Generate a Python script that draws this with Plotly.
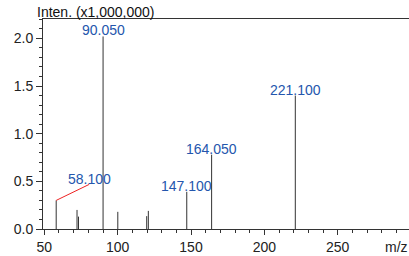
import plotly.graph_objects as go

mz = [58.1, 72.3, 73.3, 90.05, 100.1, 119.8, 120.9, 147.1, 164.05, 221.1]
intensity = [0.30, 0.20, 0.13, 2.02, 0.18, 0.135, 0.19, 0.39, 0.78, 1.40]

label_mz = [90.05, 221.1, 164.05, 147.1]
label_int = [2.02, 1.40, 0.78, 0.39]
label_text = ["90.050", "221.100", "164.050", "147.100"]

callout_mz = 58.1
callout_int = 0.30
callout_text = "58.100"

y_title = "Inten. (x1,000,000)"
x_title = "m/z"

xs, ys = [], []
for m, v in zip(mz, intensity):
    xs += [m, m, None]
    ys += [0, v, None]

fig = go.Figure()
fig.add_trace(go.Scatter(x=xs, y=ys, mode="lines",
                         line=dict(color="#333333", width=1),
                         hoverinfo="skip", showlegend=False))

lab_font = dict(family="Liberation Sans, Arial", size=14, color="#2456ad")
for m, v, t in zip(label_mz, label_int, label_text):
    fig.add_annotation(x=m, y=v, text=t, showarrow=False, xanchor="center",
                       yanchor="bottom", yshift=-4, font=lab_font)

# callout with red leader line
fig.add_shape(type="line", xref="x", yref="y", xsizemode="pixel", ysizemode="pixel",
              xanchor=callout_mz, yanchor=callout_int, x0=0, x1=33, y0=0, y1=16,
              line=dict(color="#ee2222", width=1))
fig.add_annotation(x=callout_mz, y=callout_int, text=callout_text, showarrow=False,
                   xanchor="center", yanchor="middle", xshift=33, yshift=21, font=lab_font)

fig.add_annotation(xref="paper", yref="paper", x=-0.022, y=1.0, text=y_title,
                   showarrow=False, xanchor="left", yanchor="bottom", yshift=-3,
                   font=dict(family="Liberation Sans, Arial", size=14, color="#111111"))
fig.add_annotation(xref="paper", yref="paper", x=0.965, y=0, text=x_title,
                   showarrow=False, xanchor="center", yanchor="top", yshift=-8,
                   font=dict(family="Liberation Sans, Arial", size=14, color="#222222"))

axis_font = dict(family="Liberation Sans, Arial", size=14, color="#222222")
fig.update_xaxes(range=[49.1, 298.6], tickvals=[50, 100, 150, 200, 250],
                 ticks="outside", ticklen=5, tickcolor="#333", tickwidth=1,
                 showline=True, linecolor="#333", linewidth=1, mirror=True,
                 showgrid=False, zeroline=False, tickfont=axis_font,
                 minor=dict(dtick=10, tick0=50, ticks="outside", ticklen=3, tickcolor="#333"))
fig.update_yaxes(range=[0, 2.203], dtick=0.5, tick0=0, tickformat=".1f",
                 ticks="outside", ticklen=6, tickcolor="#333", tickwidth=1,
                 showline=True, linecolor="#333", linewidth=1,
                 showgrid=False, zeroline=False, tickfont=axis_font,
                 minor=dict(dtick=0.1, tick0=0, ticks="outside", ticklen=3, tickcolor="#333"))

fig.update_layout(width=409, height=256, margin=dict(l=43, r=0, t=19, b=27),
                  paper_bgcolor="white", plot_bgcolor="white")

fig.write_html("out.html", config={"displayModeBar": False, "staticPlot": True},
               post_script="document.body.style.margin='0';document.body.style.overflow='hidden';")
